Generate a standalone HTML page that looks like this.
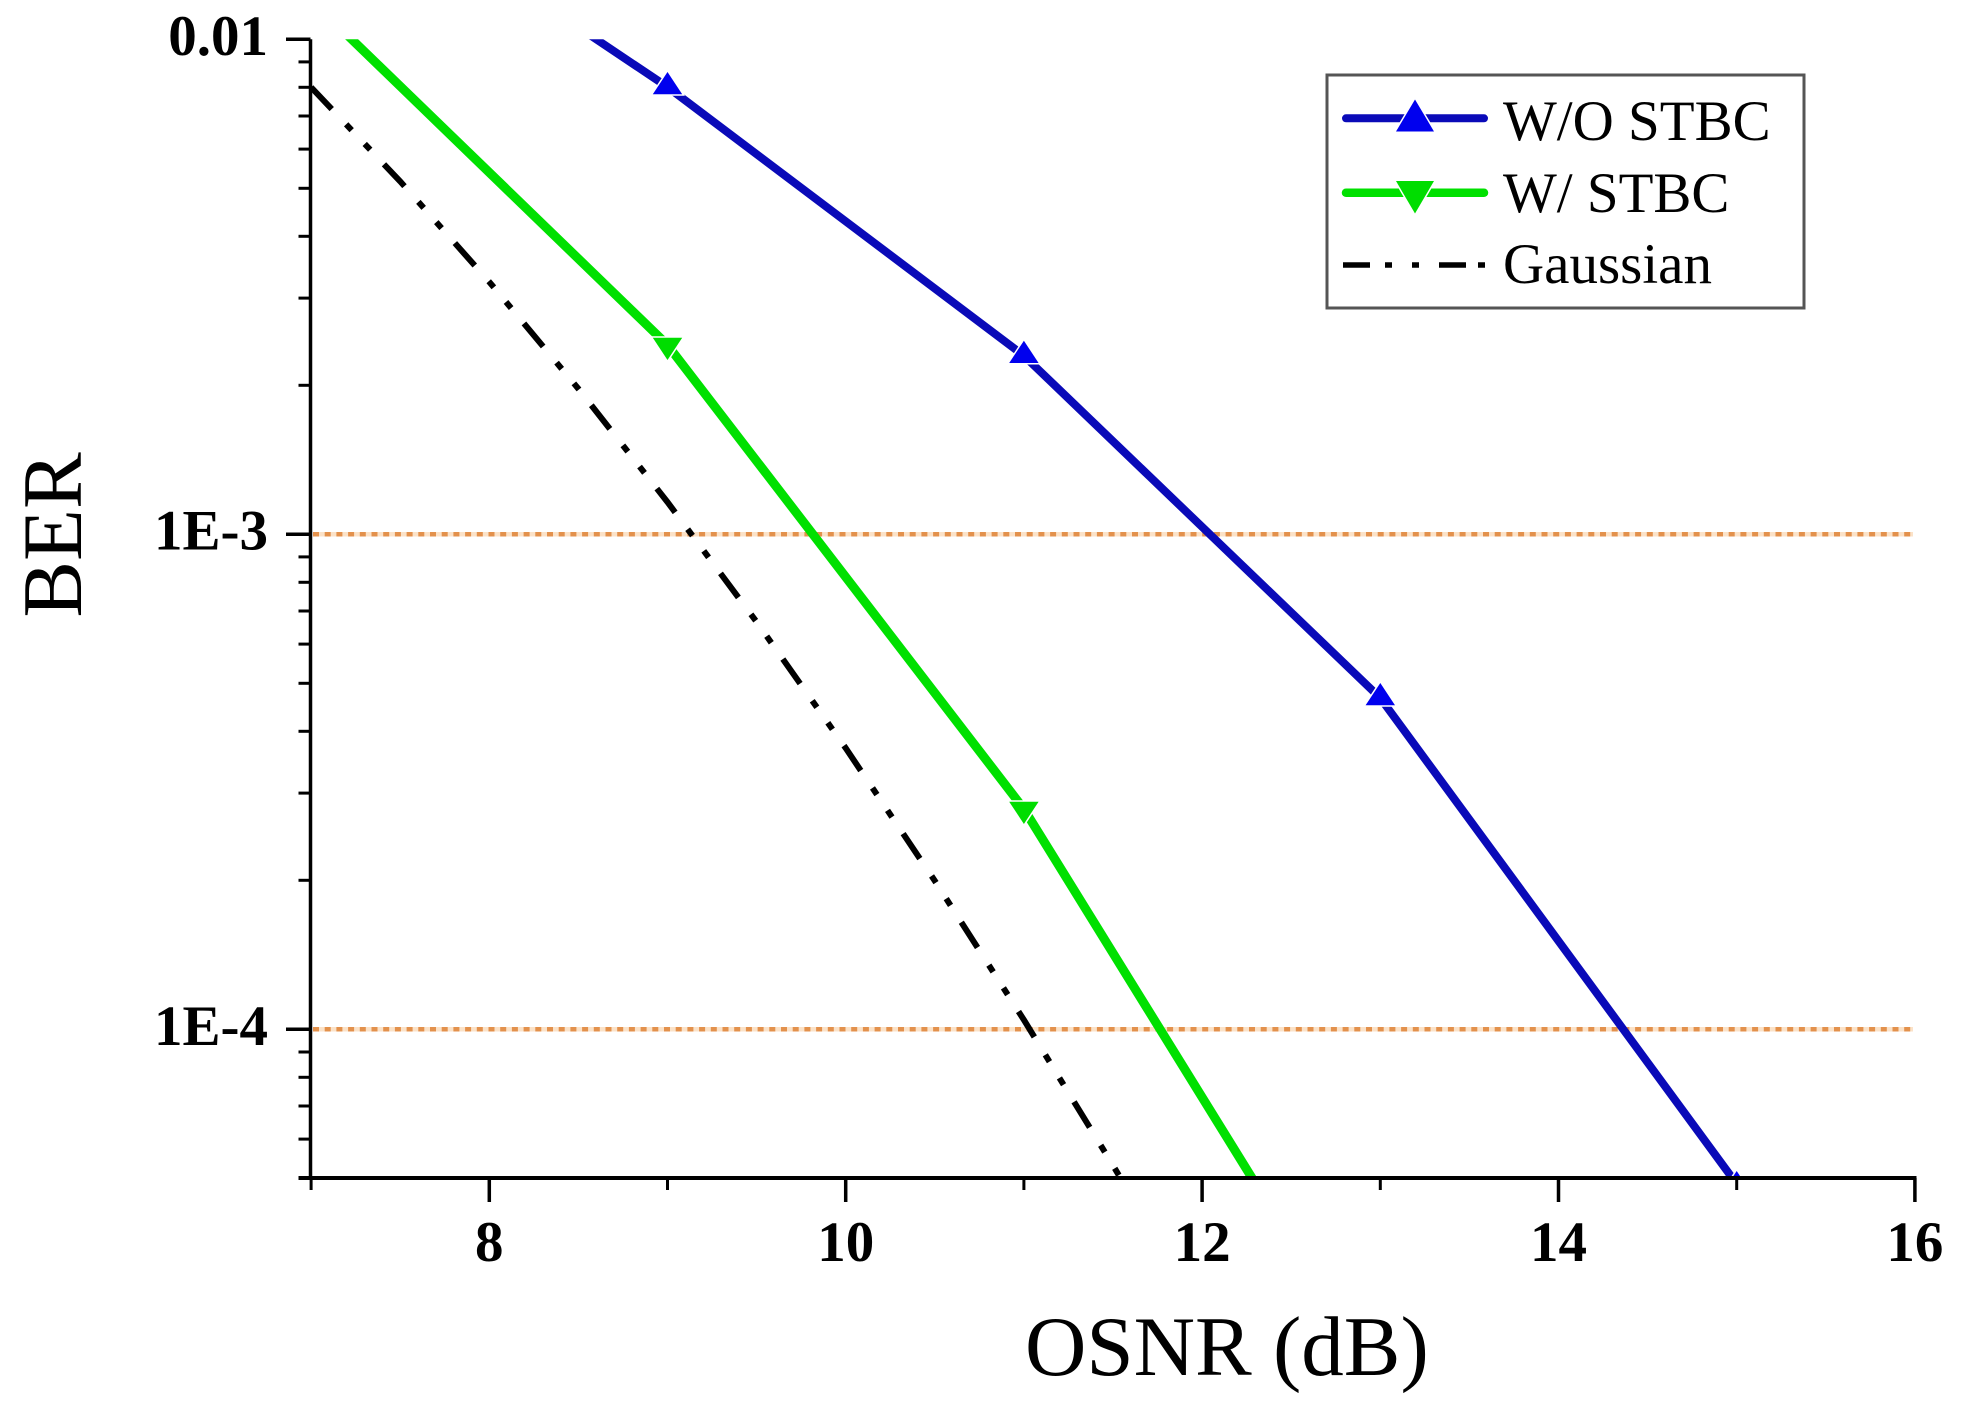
<!DOCTYPE html>
<html>
<head>
<meta charset="utf-8">
<style>
  html, body { margin: 0; padding: 0; background: #ffffff; }
  svg { display: block; }
  text { font-family: "Liberation Serif", "Times New Roman", serif; fill: #000; }
</style>
</head>
<body>
<svg width="1974" height="1413" viewBox="0 0 1974 1413" xmlns="http://www.w3.org/2000/svg">
  <defs>
    <clipPath id="plot">
      <rect x="311" y="39.3" width="1604" height="1138.7"/>
    </clipPath>
  </defs>
  <rect x="0" y="0" width="1974" height="1413" fill="#ffffff"/>

  <!-- reference lines (orange dotted) -->
  <g>
    <line x1="313" y1="534.3" x2="1913" y2="534.3" stroke="#fbe2c8" stroke-width="4.5"/>
    <line x1="313" y1="534.3" x2="1913" y2="534.3" stroke="#e3914c" stroke-width="4.5" stroke-dasharray="6 5.7"/>
    <line x1="313" y1="1029.3" x2="1913" y2="1029.3" stroke="#fbe2c8" stroke-width="4.5"/>
    <line x1="313" y1="1029.3" x2="1913" y2="1029.3" stroke="#e3914c" stroke-width="4.5" stroke-dasharray="6 5.7"/>
  </g>

  <g clip-path="url(#plot)">
    <!-- Gaussian dash-dot-dot -->
    <polyline fill="none" stroke="#000" stroke-width="6" stroke-dasharray="30 21 8 19 8 20"
      points="311.1,87.3 400.2,181.4 489.3,281.9 578.4,388.8 667.5,502.1 756.6,621.9 845.7,748.1 934.8,880.8 1023.9,1019.9 1113,1165.4 1148.6,1225.3"/>

    <!-- W/O STBC (blue) -->
    <polyline fill="none" stroke="#0a0ab8" stroke-width="8" stroke-linejoin="round"
      points="489.3,-32.4 667.5,87 1023.9,355.7 1380.3,698 1736.7,1184"/>

    <!-- W/ STBC (green) -->
    <polyline fill="none" stroke="#00e000" stroke-width="9" stroke-linejoin="round"
      points="311.1,0 667.5,345 1023.9,809 1380.3,1385.5"/>

    <!-- blue markers -->
    <g fill="#0000ee" stroke="#ffffff" stroke-width="3" paint-order="stroke">
      <polygon points="667.5,72 682.2,94.3 652.8,94.3"/>
      <polygon points="1023.9,340.7 1038.6,363 1009.2,363"/>
      <polygon points="1380.3,683 1395,705.3 1365.6,705.3"/>
      <polygon points="1736.7,1171 1751.4,1193.3 1722,1193.3"/>
    </g>
    <!-- green markers -->
    <g fill="#00dd00" stroke="#ffffff" stroke-width="3" paint-order="stroke">
      <polygon points="667.5,360 682.2,337.7 652.8,337.7"/>
      <polygon points="1023.9,824 1038.6,801.7 1009.2,801.7"/>
    </g>
  </g>

  <!-- axes -->
  <g stroke="#000" fill="none">
    <line x1="310.5" y1="39.3" x2="310.5" y2="1179" stroke-width="3.5"/>
    <line x1="298.5" y1="1178" x2="1916.5" y2="1178" stroke-width="4"/>
    <!-- y major ticks -->
    <g stroke-width="3.5">
      <line x1="286" y1="39.3" x2="310.5" y2="39.3"/>
      <line x1="286" y1="534.3" x2="310.5" y2="534.3"/>
      <line x1="286" y1="1029.3" x2="310.5" y2="1029.3"/>
    </g>
    <!-- y minor ticks -->
    <g stroke-width="3">
      <line x1="298.5" y1="61.9" x2="310.5" y2="61.9"/>
      <line x1="298.5" y1="87.3" x2="310.5" y2="87.3"/>
      <line x1="298.5" y1="116" x2="310.5" y2="116"/>
      <line x1="298.5" y1="149.1" x2="310.5" y2="149.1"/>
      <line x1="298.5" y1="188.3" x2="310.5" y2="188.3"/>
      <line x1="298.5" y1="236.3" x2="310.5" y2="236.3"/>
      <line x1="298.5" y1="298.1" x2="310.5" y2="298.1"/>
      <line x1="298.5" y1="385.3" x2="310.5" y2="385.3"/>
      <line x1="298.5" y1="556.9" x2="310.5" y2="556.9"/>
      <line x1="298.5" y1="582.3" x2="310.5" y2="582.3"/>
      <line x1="298.5" y1="611" x2="310.5" y2="611"/>
      <line x1="298.5" y1="644.1" x2="310.5" y2="644.1"/>
      <line x1="298.5" y1="683.3" x2="310.5" y2="683.3"/>
      <line x1="298.5" y1="731.3" x2="310.5" y2="731.3"/>
      <line x1="298.5" y1="793.1" x2="310.5" y2="793.1"/>
      <line x1="298.5" y1="880.3" x2="310.5" y2="880.3"/>
      <line x1="298.5" y1="1052" x2="310.5" y2="1052"/>
      <line x1="298.5" y1="1077.3" x2="310.5" y2="1077.3"/>
      <line x1="298.5" y1="1106" x2="310.5" y2="1106"/>
      <line x1="298.5" y1="1139.1" x2="310.5" y2="1139.1"/>
    </g>
    <!-- x major ticks -->
    <g stroke-width="3.5">
      <line x1="489.3" y1="1178" x2="489.3" y2="1202"/>
      <line x1="845.7" y1="1178" x2="845.7" y2="1202"/>
      <line x1="1202.1" y1="1178" x2="1202.1" y2="1202"/>
      <line x1="1558.5" y1="1178" x2="1558.5" y2="1202"/>
      <line x1="1914.9" y1="1178" x2="1914.9" y2="1202"/>
    </g>
    <!-- x minor ticks -->
    <g stroke-width="3">
      <line x1="311.1" y1="1178" x2="311.1" y2="1190"/>
      <line x1="667.5" y1="1178" x2="667.5" y2="1190"/>
      <line x1="1023.9" y1="1178" x2="1023.9" y2="1190"/>
      <line x1="1380.3" y1="1178" x2="1380.3" y2="1190"/>
      <line x1="1736.7" y1="1178" x2="1736.7" y2="1190"/>
    </g>
  </g>

  <!-- y tick labels -->
  <g font-size="57" font-weight="bold" text-anchor="end">
    <text x="268" y="55">0.01</text>
    <text x="268" y="549.5">1E-3</text>
    <text x="268" y="1045">1E-4</text>
  </g>
  <!-- x tick labels -->
  <g font-size="57" font-weight="bold" text-anchor="middle">
    <text x="489.3" y="1261">8</text>
    <text x="845.7" y="1261">10</text>
    <text x="1202.1" y="1261">12</text>
    <text x="1558.5" y="1261">14</text>
    <text x="1914.9" y="1261">16</text>
  </g>

  <!-- axis titles -->
  <text transform="translate(81,535) rotate(-90)" font-size="85" text-anchor="middle">BER</text>
  <text x="1025" y="1375" font-size="85">OSNR (dB)</text>

  <!-- legend -->
  <rect x="1327" y="75" width="477" height="233" fill="#ffffff" stroke="#555555" stroke-width="3"/>
  <line x1="1346" y1="118.3" x2="1484" y2="118.3" stroke="#0a0ab8" stroke-width="8" stroke-linecap="round"/>
  <polygon points="1415,99.5 1434,131.5 1396,131.5" fill="#0000ee" stroke="#ffffff" stroke-width="3" paint-order="stroke"/>
  <line x1="1346" y1="192.7" x2="1484" y2="192.7" stroke="#00e000" stroke-width="8.5" stroke-linecap="round"/>
  <polygon points="1415,213.5 1434,181 1396,181" fill="#00dd00" stroke="#ffffff" stroke-width="3" paint-order="stroke"/>
  <g stroke="#000" stroke-width="5.5">
    <line x1="1343" y1="265" x2="1370" y2="265"/>
    <line x1="1385" y1="265" x2="1392" y2="265"/>
    <line x1="1412" y1="265" x2="1419" y2="265"/>
    <line x1="1439" y1="265" x2="1466" y2="265"/>
    <line x1="1478" y1="265" x2="1485" y2="265"/>
  </g>
  <g font-size="57">
    <text x="1503" y="140">W/O STBC</text>
    <text x="1503" y="212">W/ STBC</text>
    <text x="1503" y="283">Gaussian</text>
  </g>
</svg>
</body>
</html>
